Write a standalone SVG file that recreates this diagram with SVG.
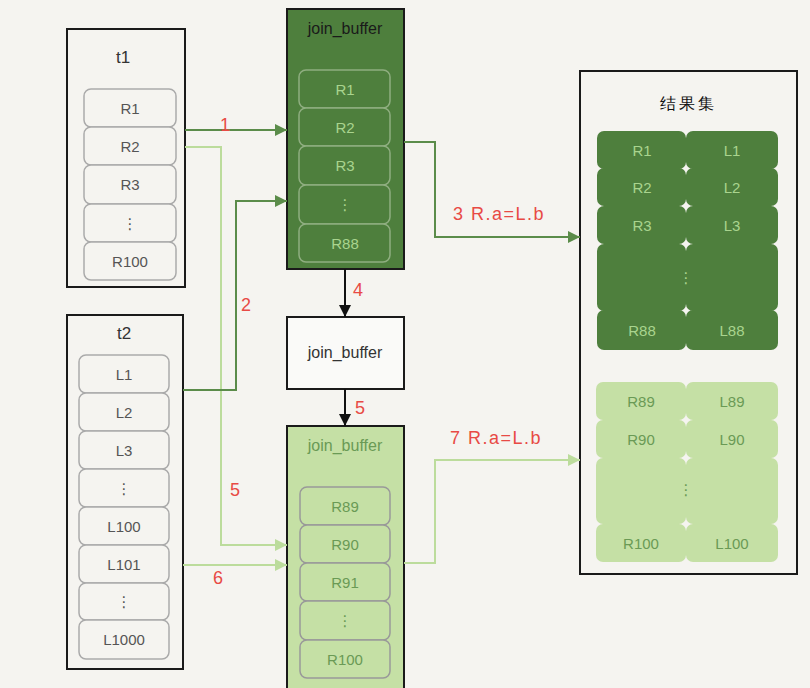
<svg xmlns="http://www.w3.org/2000/svg" width="810" height="688" viewBox="0 0 810 688">
<defs>
<style>
text{font-family:"Liberation Sans","DejaVu Sans",sans-serif;text-anchor:middle;dominant-baseline:central}
.box{stroke:#1a1a1a;stroke-width:2}
.row{fill:#f5f4f0;stroke:#aaaaaa;stroke-width:1.5}
.rowt{font-size:15px;fill:#555}
.drow{fill:#4e7f3d;stroke:#8fae80;stroke-width:1.5}
.drowt{font-size:15px;fill:#a9d48e}
.lrow{fill:#c5e0a5;stroke:#999;stroke-width:1.5}
.lrowt{font-size:15px;fill:#6a9a55}
.rd{fill:#4e7f3d}
.rl{fill:#c5e0a5}
.lbl{font-size:18px;fill:#e84a45}
.dk{fill:none;stroke:#5b8c4a;stroke-width:2}
.lt{fill:none;stroke:#bcdc9c;stroke-width:2}
.bk{fill:none;stroke:#111;stroke-width:2}
</style>
<marker id="ad" viewBox="0 0 10 10" refX="10" refY="5" markerWidth="6" markerHeight="6" orient="auto"><path d="M0,0L10,5L0,10z" fill="#5b8c4a"/></marker>
<marker id="al" viewBox="0 0 10 10" refX="10" refY="5" markerWidth="6" markerHeight="6" orient="auto"><path d="M0,0L10,5L0,10z" fill="#bcdc9c"/></marker>
<marker id="ab" viewBox="0 0 10 10" refX="10" refY="5" markerWidth="6" markerHeight="6" orient="auto"><path d="M0,0L10,5L0,10z" fill="#111"/></marker>
</defs>
<rect width="810" height="688" fill="#f5f4f0"/>

<g id="t1">
<rect class="box" x="67" y="29" width="118" height="258" fill="#f5f4f0"/>
<text x="123" y="57" font-size="17" fill="#333">t1</text>
<rect class="row" x="84" y="89" width="92" height="38" rx="7"/><text class="rowt" x="130" y="108">R1</text>
<rect class="row" x="84" y="127" width="92" height="38" rx="7"/><text class="rowt" x="130" y="146">R2</text>
<rect class="row" x="84" y="165" width="92" height="39" rx="7"/><text class="rowt" x="130" y="184">R3</text>
<rect class="row" x="84" y="204" width="92" height="38" rx="7"/><text class="rowt" x="130" y="223">⋮</text>
<rect class="row" x="84" y="242" width="92" height="38" rx="7"/><text class="rowt" x="130" y="261">R100</text>
</g>

<g id="t2">
<rect class="box" x="67" y="315" width="116" height="354" fill="#f5f4f0"/>
<text x="124" y="333" font-size="17" fill="#333">t2</text>
<rect class="row" x="79" y="355" width="90" height="38" rx="7"/><text class="rowt" x="124" y="374">L1</text>
<rect class="row" x="79" y="393" width="90" height="38" rx="7"/><text class="rowt" x="124" y="412">L2</text>
<rect class="row" x="79" y="431" width="90" height="38" rx="7"/><text class="rowt" x="124" y="450">L3</text>
<rect class="row" x="79" y="469" width="90" height="38" rx="7"/><text class="rowt" x="124" y="488">⋮</text>
<rect class="row" x="79" y="507" width="90" height="38" rx="7"/><text class="rowt" x="124" y="526">L100</text>
<rect class="row" x="79" y="545" width="90" height="38" rx="7"/><text class="rowt" x="124" y="564">L101</text>
<rect class="row" x="79" y="583" width="90" height="37" rx="7"/><text class="rowt" x="124" y="601">⋮</text>
<rect class="row" x="79" y="620" width="90" height="39" rx="7"/><text class="rowt" x="124" y="639">L1000</text>
</g>

<g id="jb1">
<rect class="box" x="287" y="9" width="117" height="260" fill="#4e7f3d"/>
<text x="345" y="28" font-size="16" fill="#1a1a1a">join_buffer</text>
<rect class="drow" x="299" y="70" width="91" height="38" rx="7"/><text class="drowt" x="345" y="89">R1</text>
<rect class="drow" x="299" y="108" width="91" height="38" rx="7"/><text class="drowt" x="345" y="127">R2</text>
<rect class="drow" x="299" y="146" width="91" height="39" rx="7"/><text class="drowt" x="345" y="165">R3</text>
<rect class="drow" x="299" y="185" width="91" height="39" rx="7"/><text class="drowt" x="345" y="204">⋮</text>
<rect class="drow" x="299" y="224" width="91" height="38" rx="7"/><text class="drowt" x="345" y="243">R88</text>
</g>

<g id="jb2">
<rect class="box" x="287" y="317" width="117" height="72" fill="#fafaf8"/>
<text x="345" y="352" font-size="16" fill="#333">join_buffer</text>
</g>

<g id="jb3">
<rect class="box" x="287" y="426" width="117" height="270" fill="#c5e0a5"/>
<text x="345" y="445" font-size="16" fill="#6a9a55">join_buffer</text>
<rect class="lrow" x="300" y="487" width="90" height="38" rx="7"/><text class="lrowt" x="345" y="506">R89</text>
<rect class="lrow" x="300" y="525" width="90" height="38" rx="7"/><text class="lrowt" x="345" y="544">R90</text>
<rect class="lrow" x="300" y="563" width="90" height="38" rx="7"/><text class="lrowt" x="345" y="582">R91</text>
<rect class="lrow" x="300" y="601" width="90" height="39" rx="7"/><text class="lrowt" x="345" y="620">⋮</text>
<rect class="lrow" x="300" y="640" width="90" height="38" rx="7"/><text class="lrowt" x="345" y="659">R100</text>
</g>

<g id="result">
<rect class="box" x="580" y="71" width="217" height="503" fill="#f5f4f0"/>
<text x="688" y="103" font-size="16" fill="#111" font-family="'Noto Sans CJK SC',sans-serif" letter-spacing="3">结果集</text>
<rect class="rd" x="597" y="131" width="89" height="38" rx="7"/><rect class="rd" x="686" y="131" width="92" height="38" rx="7"/>
<rect class="rd" x="597" y="168" width="89" height="38" rx="7"/><rect class="rd" x="686" y="168" width="92" height="38" rx="7"/>
<rect class="rd" x="597" y="206" width="89" height="38" rx="7"/><rect class="rd" x="686" y="206" width="92" height="38" rx="7"/>
<rect class="rd" x="597" y="244" width="89" height="67" rx="7"/><rect class="rd" x="686" y="244" width="92" height="67" rx="7"/>
<rect class="rd" x="597" y="310" width="89" height="40" rx="7"/><rect class="rd" x="686" y="310" width="92" height="40" rx="7"/>
<text class="drowt" x="642" y="150">R1</text><text class="drowt" x="732" y="150">L1</text>
<text class="drowt" x="642" y="187">R2</text><text class="drowt" x="732" y="187">L2</text>
<text class="drowt" x="642" y="225">R3</text><text class="drowt" x="732" y="225">L3</text>
<text class="drowt" x="686" y="277">⋮</text>
<text class="drowt" x="642" y="330">R88</text><text class="drowt" x="732" y="330">L88</text>
<rect class="rl" x="596" y="382" width="90" height="38" rx="7"/><rect class="rl" x="686" y="382" width="92" height="38" rx="7"/>
<rect class="rl" x="596" y="420" width="90" height="38" rx="7"/><rect class="rl" x="686" y="420" width="92" height="38" rx="7"/>
<rect class="rl" x="596" y="458" width="90" height="66" rx="7"/><rect class="rl" x="686" y="458" width="92" height="66" rx="7"/>
<rect class="rl" x="596" y="524" width="90" height="38" rx="7"/><rect class="rl" x="686" y="524" width="92" height="38" rx="7"/>
<text class="lrowt" x="641" y="401">R89</text><text class="lrowt" x="732" y="401">L89</text>
<text class="lrowt" x="641" y="439">R90</text><text class="lrowt" x="732" y="439">L90</text>
<text class="lrowt" x="686" y="489">⋮</text>
<text class="lrowt" x="641" y="543">R100</text><text class="lrowt" x="732" y="543">L100</text>
</g>

<g id="connectors">
<path class="dk" d="M185,130H287" marker-end="url(#ad)"/>
<path class="lt" d="M185,147H221V545H287" marker-end="url(#al)"/>
<path class="dk" d="M183,390H236V201H287" marker-end="url(#ad)"/>
<path class="lt" d="M183,565H287" marker-end="url(#al)"/>
<path class="dk" d="M404,142H435V237H580" marker-end="url(#ad)"/>
<path class="lt" d="M404,563H435V460H580" marker-end="url(#al)"/>
<path class="bk" d="M345,269V317" marker-end="url(#ab)"/>
<path class="bk" d="M345,389V426" marker-end="url(#ab)"/>
<text class="lbl" x="225" y="125">1</text>
<text class="lbl" x="246" y="305">2</text>
<text class="lbl" x="499" y="214" letter-spacing="1.5">3 R.a=L.b</text>
<text class="lbl" x="358" y="290">4</text>
<text class="lbl" x="360" y="408">5</text>
<text class="lbl" x="235" y="490">5</text>
<text class="lbl" x="218" y="578">6</text>
<text class="lbl" x="496" y="438" letter-spacing="1.5">7 R.a=L.b</text>
</g>
</svg>
